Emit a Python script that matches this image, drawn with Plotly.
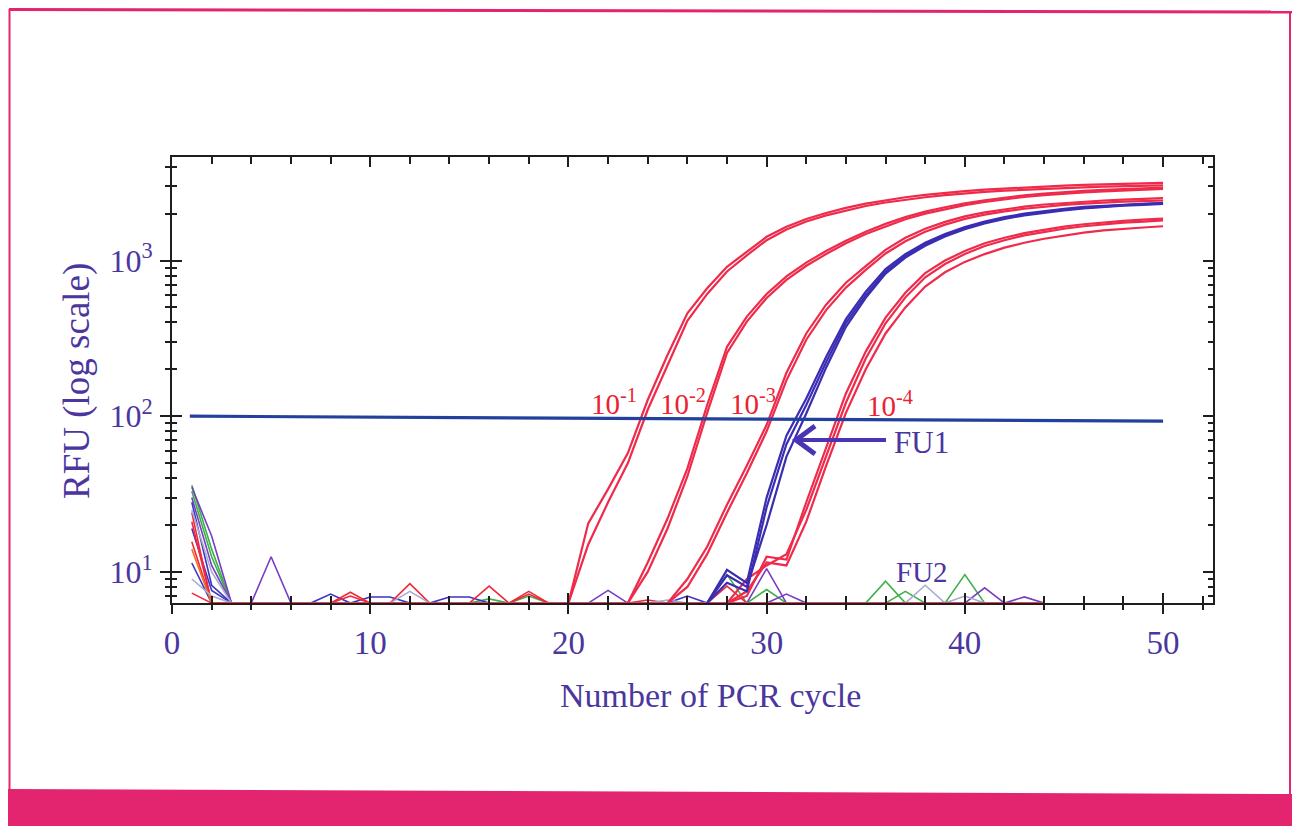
import plotly.graph_objects as go

# ---------------- data ----------------
# 10^-1 dilution (two replicates), cycles 20..50
CYC_A = list(range(20, 51))
A1 = [6.3, 20.5, 34, 58, 127, 247, 458, 663, 912, 1140, 1420, 1650, 1850, 2020, 2180, 2320,
      2440, 2550, 2640, 2720, 2790, 2850, 2900, 2950, 2990, 3030, 3060, 3090, 3110, 3130, 3150]
A2 = [6.3, 15, 28, 50, 110, 215, 410, 610, 850, 1080, 1350, 1580, 1780, 1950, 2100, 2240,
      2360, 2460, 2550, 2630, 2700, 2760, 2810, 2850, 2890, 2920, 2950, 2980, 3000, 3020, 3040]
# 10^-2 dilution, cycles 23..50
CYC_B = list(range(23, 51))
B1 = [6.3, 11.5, 22, 46, 118, 279, 436, 610, 790, 970, 1150, 1340, 1530, 1720, 1900, 2060,
      2200, 2330, 2440, 2540, 2620, 2690, 2750, 2800, 2840, 2880, 2910, 2940]
B2 = [6.3, 10, 19, 41, 105, 255, 405, 575, 750, 925, 1100, 1290, 1480, 1660, 1840, 2000,
      2140, 2270, 2380, 2480, 2560, 2630, 2690, 2740, 2780, 2820, 2850, 2880]
# 10^-3 dilution, cycles 25..50
CYC_C = list(range(25, 51))
C1 = [6.3, 9, 14.5, 27, 48, 88, 190, 340, 520, 720, 920, 1170, 1400, 1600, 1770, 1920,
      2040, 2140, 2220, 2290, 2340, 2390, 2430, 2460, 2490, 2520]
C2 = [6.3, 8, 13, 24, 43, 80, 170, 310, 480, 670, 870, 1110, 1330, 1530, 1700, 1850,
      1970, 2070, 2150, 2220, 2280, 2320, 2360, 2390, 2410, 2430]
# FU1 (blue), cycles 27..50
CYC_E = list(range(27, 51))
E1 = [6.3, 10.3, 8.5, 30, 75, 130, 240, 420, 630, 880, 1100, 1300, 1480, 1640, 1780, 1900,
      2000, 2080, 2150, 2210, 2250, 2290, 2320, 2350]
E2 = [6.3, 8.5, 7.5, 26, 66, 118, 222, 398, 600, 850, 1070, 1270, 1450, 1610, 1750, 1870,
      1970, 2050, 2120, 2180, 2230, 2270, 2300, 2330]
E3 = [6.3, 9.5, 8.0, 20, 55, 104, 205, 375, 575, 825, 1045, 1245, 1425, 1590, 1730, 1850,
      1950, 2030, 2100, 2160, 2210, 2250, 2280, 2310]
# 10^-4 dilution (three replicates), cycles 28..50
CYC_D = list(range(28, 51))
D1 = [6.3, 7, 12.5, 12, 28, 62, 140, 260, 430, 620, 830, 1000, 1150, 1290, 1400, 1500,
      1580, 1650, 1710, 1760, 1800, 1830, 1860]
D2 = [6.3, 9, 11, 13, 25, 55, 122, 235, 395, 580, 780, 950, 1100, 1240, 1350, 1450,
      1530, 1600, 1660, 1710, 1750, 1780, 1810]
D3 = [6.3, 7.5, 11.5, 11, 21, 48, 105, 200, 340, 500, 680, 840, 980, 1100, 1210, 1300,
      1380, 1450, 1510, 1560, 1600, 1630, 1660]

# background / noise traces: baseline value and the cycles where they rise above it
NOISE_CYCLES = list(range(1, 45))
BASE = 6.3
NOISE = [
    ("#3db04a", {1: 36, 2: 14, 16: 6.7, 28: 9.6, 36: 8.7}),
    ("#3db04a", {1: 33, 2: 12.5, 18: 7.0, 30: 7.7, 37: 7.5, 40: 9.6}),
    ("#7a3cc4", {1: 35, 2: 17, 5: 12.5, 22: 7.6, 30: 10.5, 41: 7.9, 43: 6.9}),
    ("#7a3cc4", {1: 30, 2: 11, 31: 7.2}),
    ("#3a36c8", {1: 28, 2: 8.2, 8: 7.2, 10: 6.9, 11: 6.9, 14: 6.9, 15: 6.9, 26: 7.0}),
    ("#3a36c8", {1: 19, 2: 7.6}),
    ("#3a36c8", {1: 11.4}),
    ("#f0283c", {1: 24, 9: 7.4, 12: 8.4, 16: 8.1, 18: 7.5, 24: 6.6, 28: 8.1}),
    ("#f0283c", {1: 21}),
    ("#f0283c", {1: 15.6, 9: 7.0, 18: 7.2}),
    ("#f07028", {1: 14}),
    ("#a8acd0", {1: 9, 2: 7.0, 12: 7.5, 38: 8.2}),
    ("#a8acd0", {1: 25, 2: 10, 25: 6.6, 40: 7.0}),
    ("#f0283c", {1: 7.3}),
]

THRESH_X = [0.9, 50]
THRESH_Y = [100, 93]

X_TICKS = [0, 10, 20, 30, 40, 50]
Y_TICKS = [10, 100, 1000]
Y_TICKTEXT = ["10<sup>1</sup>", "10<sup>2</sup>", "10<sup>3</sup>"]
Y_MINOR = [7, 8, 9, 20, 30, 40, 50, 60, 70, 80, 90,
           200, 300, 400, 500, 600, 700, 800, 900, 2000, 3000, 4000]

DILUTION_LABELS = ["10<sup>-1</sup>", "10<sup>-2</sup>", "10<sup>-3</sup>", "10<sup>-4</sup>"]

# ---------------- styling ----------------
RED = "#ef2a4a"
BLUE = "#3b2db2"
TXT = "#4b36a0"
LBLRED = "#ea2230"
PINK = "#e3256f"
SERIF = "Liberation Serif"

W, H = 1300, 826
# plot box in the reference picture (page coordinates)
L, R, T, B = 172, 1213, 157, 603
OFF = 8  # the browser page adds an 8 px body margin


def PX(px):
    return (px - L) / (R - L)


def PY(py):
    return (B - py) / (B - T)


fig = go.Figure()

for color, bumps in NOISE:
    ys = [bumps.get(c, BASE) for c in NOISE_CYCLES]
    fig.add_trace(go.Scatter(x=NOISE_CYCLES, y=ys, mode="lines",
                             line=dict(color=color, width=1.6), showlegend=False,
                             hoverinfo="skip"))

for cyc, ys in [(CYC_A, A1), (CYC_A, A2), (CYC_B, B1), (CYC_B, B2), (CYC_C, C1),
                (CYC_C, C2), (CYC_D, D1), (CYC_D, D2), (CYC_D, D3)]:
    fig.add_trace(go.Scatter(x=cyc, y=ys, mode="lines",
                             line=dict(color=RED, width=2.2), showlegend=False))

for ys in [E1, E2, E3]:
    fig.add_trace(go.Scatter(x=CYC_E, y=ys, mode="lines",
                             line=dict(color=BLUE, width=2.2), showlegend=False))

fig.add_trace(go.Scatter(x=THRESH_X, y=THRESH_Y, mode="lines",
                         line=dict(color="#22409c", width=3.2), showlegend=False))

# dummy trace for the overlay axes (inner tick marks)
fig.add_trace(go.Scatter(x=[None], y=[None], xaxis="x2", yaxis="y2",
                         showlegend=False, hoverinfo="skip"))

XR = [0, 52.52]
YR = [0.800, 3.665]
AX = "#1e1e1e"

fig.update_layout(
    width=W, height=H,
    margin=dict(l=L - OFF, r=W - R + OFF, t=T - OFF, b=H - B + OFF),
    paper_bgcolor="white", plot_bgcolor="white",
    xaxis=dict(range=XR, tickmode="array", tickvals=X_TICKS,
               ticks="outside", ticklen=9, tickwidth=2, tickcolor=AX,
               showline=True, linewidth=2, linecolor=AX, mirror=True,
               showgrid=False, zeroline=False, ticklabelstandoff=0,
               tickfont=dict(family=SERIF, size=33, color=TXT),
               minor=dict(tickmode="linear", tick0=0, dtick=2, ticks="outside",
                          ticklen=5, tickwidth=1.6, tickcolor=AX, showgrid=False)),
    yaxis=dict(type="log", range=YR, tickmode="array", tickvals=Y_TICKS,
               ticktext=Y_TICKTEXT, ticks="outside", ticklen=10, tickwidth=2,
               tickcolor=AX, showline=True, linewidth=2, linecolor=AX, mirror=True,
               showgrid=False, zeroline=False, ticklabelstandoff=1,
               tickfont=dict(family=SERIF, size=32, color=TXT),
               minor=dict(tickmode="array", tickvals=Y_MINOR, ticks="outside",
                          ticklen=5, tickwidth=1.6, tickcolor=AX, showgrid=False)),
    xaxis2=dict(range=XR, overlaying="x", anchor="y2", tickmode="array",
                tickvals=X_TICKS, ticks="inside", ticklen=10, tickwidth=2,
                tickcolor=AX, mirror="allticks", showticklabels=False,
                showline=False, showgrid=False, zeroline=False,
                minor=dict(tickmode="linear", tick0=0, dtick=2, ticks="inside",
                           ticklen=7, tickwidth=1.6, tickcolor=AX, showgrid=False)),
    yaxis2=dict(type="log", range=YR, overlaying="y", anchor="x2", tickmode="array",
                tickvals=Y_TICKS, ticks="inside", ticklen=10, tickwidth=2,
                tickcolor=AX, mirror="allticks", showticklabels=False,
                showline=False, showgrid=False, zeroline=False,
                minor=dict(tickmode="array", tickvals=Y_MINOR, ticks="inside",
                           ticklen=5, tickwidth=1.6, tickcolor=AX, showgrid=False)),
    showlegend=False,
)

ann = []
for txt, (px, py) in zip(DILUTION_LABELS, [(614, 402), (683, 402), (753, 402), (890, 404)]):
    ann.append(dict(text=txt, x=PX(px), y=PY(py), xref="paper", yref="paper",
                    showarrow=False, xanchor="center", yanchor="middle",
                    font=dict(family=SERIF, size=29, color=LBLRED)))
ann.append(dict(text="FU1", x=PX(921), y=PY(442), xref="paper", yref="paper",
                showarrow=False, xanchor="center", yanchor="middle",
                font=dict(family=SERIF, size=31, color=TXT)))
ann.append(dict(text="FU2", x=PX(922), y=PY(572), xref="paper", yref="paper",
                showarrow=False, xanchor="center", yanchor="middle",
                font=dict(family=SERIF, size=29, color=TXT)))
ann.append(dict(text="Number of PCR cycle", x=PX(710), y=PY(695), xref="paper",
                yref="paper", showarrow=False, xanchor="center", yanchor="middle",
                font=dict(family=SERIF, size=34, color=TXT)))
ann.append(dict(text="RFU (log scale)", x=PX(77), y=PY(381), xref="paper",
                yref="paper", showarrow=False, xanchor="center", yanchor="middle",
                textangle=-90, font=dict(family=SERIF, size=37, color=TXT)))
fig.update_layout(annotations=ann)


def path(points, close=False):
    s = "M " + " L ".join(f"{PX(a):.5f},{PY(b):.5f}" for a, b in points)
    return s + (" Z" if close else "")


shapes = [
    # FU1 arrow
    dict(type="path", xref="paper", yref="paper", path=path([(795, 440), (886, 440)]),
         line=dict(color="#4a34b4", width=4)),
    dict(type="path", xref="paper", yref="paper",
         path=path([(815, 426), (796, 440), (815, 454)]),
         line=dict(color="#4a34b4", width=5)),
    # page decoration
    dict(type="path", xref="paper", yref="paper", path=path([(9, 9.5), (1292, 12)]),
         line=dict(color=PINK, width=3)),
    dict(type="path", xref="paper", yref="paper", path=path([(9.5, 9), (9.5, 790)]),
         line=dict(color=PINK, width=2)),
    dict(type="path", xref="paper", yref="paper", path=path([(1290, 12), (1290, 794)]),
         line=dict(color=PINK, width=2)),
    dict(type="path", xref="paper", yref="paper",
         path=path([(0, 789), (1300, 794), (1300, 830), (0, 830)], close=True),
         fillcolor=PINK, line=dict(color=PINK, width=0)),
]
fig.update_layout(shapes=shapes)

fig.write_html("out.html")
